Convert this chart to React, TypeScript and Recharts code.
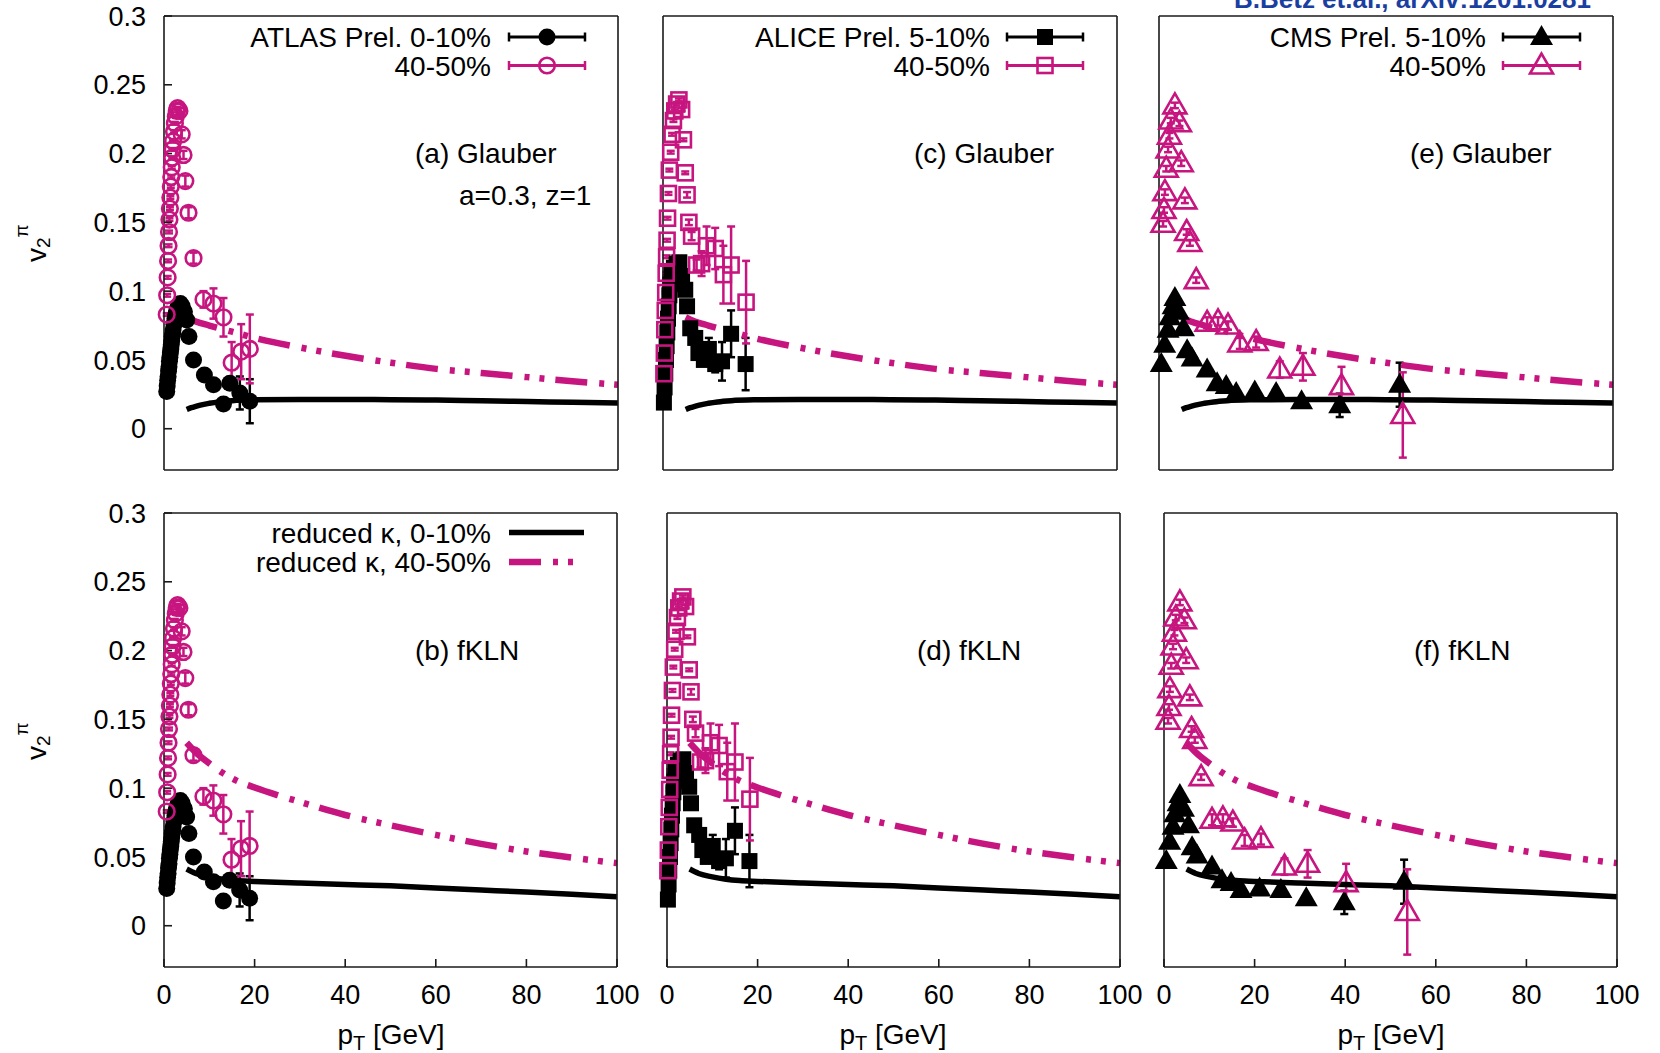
import React from "react";
import { ComposedChart, Scatter, Line, XAxis, YAxis, ErrorBar } from "recharts";

const INK = "#000000";
const MAGENTA = "#c7157f";
const BLUE = "#1b3fa1";
const AXIS = "#1a1a1a";
const FONT = '"Liberation Sans", Arial, Helvetica, sans-serif';

const xTicks = [0, 20, 40, 60, 80, 100];
const yTicks = [0, 0.05, 0.1, 0.15, 0.2, 0.25, 0.3];

// ATLAS Prel. 0-10%
const atlasCentPt = [0.6, 0.7, 0.8, 0.9, 1.0, 1.1, 1.2, 1.3, 1.4, 1.5, 1.6, 1.7, 1.8, 1.9, 2.0, 2.2, 2.4, 2.6, 2.8, 3.0, 3.3, 3.6, 4.0, 4.5, 5.0, 5.5, 6.5, 8.9, 10.9, 13.1, 14.5, 16.7, 18.9];
const atlasCentV = [0.027, 0.031, 0.035, 0.038, 0.042, 0.045, 0.049, 0.052, 0.055, 0.058, 0.061, 0.064, 0.067, 0.069, 0.072, 0.076, 0.080, 0.083, 0.086, 0.088, 0.090, 0.091, 0.089, 0.085, 0.079, 0.067, 0.050, 0.039, 0.032, 0.018, 0.033, 0.026, 0.020];
const atlasCentErr = [0.001, 0.001, 0.001, 0.001, 0.001, 0.001, 0.001, 0.001, 0.001, 0.001, 0.001, 0.001, 0.001, 0.001, 0.001, 0.001, 0.001, 0.001, 0.001, 0.001, 0.001, 0.001, 0.001, 0.001, 0.001, 0.001, 0.001, 0.002, 0.002, 0.003, 0.004, 0.012, 0.016];

// ATLAS Prel. 40-50%
const atlasPeriPt = [0.6, 0.7, 0.8, 0.9, 1.0, 1.1, 1.2, 1.3, 1.4, 1.5, 1.6, 1.7, 1.8, 1.9, 2.0, 2.2, 2.4, 2.6, 2.8, 3.0, 3.4, 3.9, 4.3, 4.7, 5.4, 6.5, 8.7, 10.9, 13.1, 14.9, 17.0, 18.9];
const atlasPeriV = [0.083, 0.097, 0.110, 0.122, 0.133, 0.143, 0.152, 0.160, 0.168, 0.176, 0.183, 0.190, 0.197, 0.203, 0.209, 0.216, 0.222, 0.227, 0.231, 0.233, 0.231, 0.214, 0.199, 0.180, 0.157, 0.124, 0.094, 0.091, 0.081, 0.048, 0.056, 0.058];
const atlasPeriErr = [0.001, 0.001, 0.001, 0.001, 0.001, 0.001, 0.001, 0.001, 0.001, 0.001, 0.001, 0.001, 0.001, 0.001, 0.001, 0.001, 0.001, 0.001, 0.001, 0.001, 0.002, 0.003, 0.003, 0.004, 0.004, 0.004, 0.006, 0.011, 0.014, 0.015, 0.020, 0.025];

// ALICE Prel. 5-10%
const aliceCentPt = [0.2, 0.35, 0.5, 0.65, 0.8, 0.95, 1.1, 1.25, 1.4, 1.6, 1.9, 2.4, 3.0, 3.6, 4.2, 4.9, 5.3, 6.0, 7.1, 7.8, 9.0, 10.1, 11.5, 13.0, 15.0, 18.2];
const aliceCentV = [0.019, 0.030, 0.040, 0.050, 0.060, 0.070, 0.080, 0.089, 0.097, 0.105, 0.112, 0.117, 0.120, 0.121, 0.111, 0.101, 0.089, 0.073, 0.066, 0.055, 0.050, 0.058, 0.047, 0.049, 0.069, 0.047];
const aliceCentErr = [0.001, 0.001, 0.001, 0.001, 0.001, 0.001, 0.001, 0.001, 0.001, 0.001, 0.001, 0.001, 0.001, 0.001, 0.001, 0.001, 0.001, 0.001, 0.001, 0.002, 0.004, 0.008, 0.006, 0.014, 0.017, 0.019];

// ALICE Prel. 40-50%
const alicePeriPt = [0.2, 0.3, 0.4, 0.5, 0.6, 0.7, 0.8, 0.9, 1.0, 1.2, 1.4, 1.7, 2.0, 2.3, 2.6, 3.0, 3.5, 4.1, 4.5, 4.9, 5.3, 5.7, 6.3, 7.4, 8.5, 9.6, 11.5, 13.3, 15.0, 18.3];
const alicePeriV = [0.040, 0.055, 0.072, 0.086, 0.099, 0.113, 0.125, 0.137, 0.153, 0.171, 0.188, 0.201, 0.214, 0.224, 0.231, 0.236, 0.239, 0.232, 0.210, 0.186, 0.170, 0.150, 0.140, 0.119, 0.120, 0.133, 0.131, 0.112, 0.119, 0.092];
const alicePeriErr = [0.001, 0.001, 0.001, 0.001, 0.001, 0.001, 0.001, 0.001, 0.001, 0.001, 0.001, 0.001, 0.001, 0.001, 0.001, 0.001, 0.001, 0.001, 0.001, 0.001, 0.002, 0.002, 0.003, 0.004, 0.009, 0.014, 0.015, 0.021, 0.028, 0.030];

// CMS Prel. 5-10%
const cmsCentPt = [0.5, 1.25, 2.0, 2.4, 3.1, 3.5, 4.3, 5.4, 6.2, 7.3, 10.6, 12.8, 14.8, 17.0, 21.1, 25.8, 31.4, 39.8, 53.0];
const cmsCentV = [0.047, 0.061, 0.072, 0.081, 0.089, 0.095, 0.085, 0.073, 0.057, 0.051, 0.043, 0.033, 0.031, 0.026, 0.027, 0.026, 0.020, 0.017, 0.032];
const cmsCentErr = [0.001, 0.001, 0.001, 0.001, 0.001, 0.001, 0.001, 0.001, 0.001, 0.001, 0.001, 0.001, 0.001, 0.001, 0.001, 0.001, 0.001, 0.0085, 0.016];

// CMS Prel. 40-50%
const cmsPeriPt = [0.9, 1.1, 1.3, 1.6, 2.0, 2.3, 2.6, 3.5, 4.5, 4.9, 5.7, 6.1, 6.8, 8.2, 10.6, 13.0, 15.2, 17.8, 21.4, 26.6, 31.7, 40.2, 53.7];
const cmsPeriV = [0.149, 0.159, 0.172, 0.189, 0.203, 0.213, 0.224, 0.235, 0.222, 0.193, 0.166, 0.143, 0.135, 0.108, 0.077, 0.078, 0.075, 0.062, 0.063, 0.043, 0.045, 0.031, 0.010];
const cmsPeriErr = [0.002, 0.002, 0.002, 0.002, 0.002, 0.002, 0.002, 0.002, 0.002, 0.002, 0.002, 0.002, 0.002, 0.002, 0.004, 0.003, 0.003, 0.004, 0.004, 0.006, 0.010, 0.014, 0.031];

// reduced kappa curves, Glauber
const glauberCentPt = [5, 6, 7, 8, 10, 12, 15, 20, 30, 40, 50, 60, 70, 80, 90, 100];
const glauberCentV = [0.014, 0.0153, 0.0163, 0.0172, 0.0185, 0.0195, 0.0204, 0.021, 0.0213, 0.0213, 0.0211, 0.0208, 0.0203, 0.0198, 0.0192, 0.0187];
const glauberPeriPt = [5, 7, 10, 15, 20, 30, 40, 50, 60, 70, 80, 90, 100];
const glauberPeriV = [0.081, 0.078, 0.075, 0.0705, 0.066, 0.059, 0.053, 0.048, 0.0435, 0.0405, 0.0375, 0.0345, 0.032];

// reduced kappa curves, fKLN
const fklnCentPt = [5, 7, 10, 13, 16, 20, 30, 40, 50, 60, 70, 80, 90, 100];
const fklnCentV = [0.0412, 0.038, 0.0355, 0.0338, 0.0328, 0.0322, 0.031, 0.030, 0.029, 0.0275, 0.026, 0.0245, 0.0228, 0.021];
const fklnPeriPt = [5, 7, 10, 13, 16, 20, 25, 30, 40, 50, 60, 70, 80, 90, 100];
const fklnPeriV = [0.133, 0.126, 0.118, 0.111, 0.1055, 0.1005, 0.095, 0.090, 0.0805, 0.073, 0.066, 0.0595, 0.054, 0.0495, 0.0455];

const zipPoints = (pt: number[], v: number[], e: number[]) => pt.map((p, i) => ({ pt: p, v: v[i], e: e[i] }));
const zipCurve = (pt: number[], v: number[]) => pt.map((p, i) => ({ pt: p, v: v[i] }));

const atlasCent = zipPoints(atlasCentPt, atlasCentV, atlasCentErr);
const atlasPeri = zipPoints(atlasPeriPt, atlasPeriV, atlasPeriErr);
const aliceCent = zipPoints(aliceCentPt, aliceCentV, aliceCentErr);
const alicePeri = zipPoints(alicePeriPt, alicePeriV, alicePeriErr);
const cmsCent = zipPoints(cmsCentPt, cmsCentV, cmsCentErr);
const cmsPeri = zipPoints(cmsPeriPt, cmsPeriV, cmsPeriErr);
const glauberCent = zipCurve(glauberCentPt, glauberCentV);
const glauberPeri = zipCurve(glauberPeriPt, glauberPeriV);
const fklnCent = zipCurve(fklnCentPt, fklnCentV);
const fklnPeri = zipCurve(fklnPeriPt, fklnPeriV);

const DASHDOT = "32 12 5 10 5 11";

// point shapes
const dot = (p: any) => <circle cx={p.cx} cy={p.cy} r={8.5} fill={INK} />;
const ring = (p: any) => <circle cx={p.cx} cy={p.cy} r={7.8} fill="none" stroke={MAGENTA} strokeWidth={2.6} />;
const block = (p: any) => <rect x={p.cx - 8} y={p.cy - 8} width={16} height={16} fill={INK} />;
const box = (p: any) => (
  <rect x={p.cx - 7.5} y={p.cy - 7.5} width={15} height={15} fill="none" stroke={MAGENTA} strokeWidth={2.6} />
);
const triPoints = (cx: number, cy: number) => `${cx},${cy - 12} ${cx - 11.5},${cy + 8} ${cx + 11.5},${cy + 8}`;
const solidTri = (p: any) => <polygon points={triPoints(p.cx, p.cy)} fill={INK} />;
const hollowTri = (p: any) => (
  <polygon points={triPoints(p.cx, p.cy)} fill="none" stroke={MAGENTA} strokeWidth={2.6} />
);

const tickStyle = { fill: INK, fontSize: 27, fontFamily: FONT };
const axisLine = { stroke: AXIS, strokeWidth: 1.6 };
const tickLine = { stroke: AXIS, strokeWidth: 1.6 };
// each axis takes 1px, the rest of the frame is margin
const M = { top: 39, right: 39, bottom: 79, left: 99 };

const panels = [
  { id: "a", left: 164, top: 16, w: 454, h: 454, showX: false, showY: true, cent: atlasCent, peri: atlasPeri, centShape: dot, periShape: ring, curveC: glauberCent, curveP: glauberPeri },
  { id: "c", left: 663, top: 16, w: 454, h: 454, showX: false, showY: false, cent: aliceCent, peri: alicePeri, centShape: block, periShape: box, curveC: glauberCent, curveP: glauberPeri },
  { id: "e", left: 1159, top: 16, w: 454, h: 454, showX: false, showY: false, cent: cmsCent, peri: cmsPeri, centShape: solidTri, periShape: hollowTri, curveC: glauberCent, curveP: glauberPeri },
  { id: "b", left: 164, top: 512.5, w: 453, h: 454, showX: true, showY: true, cent: atlasCent, peri: atlasPeri, centShape: dot, periShape: ring, curveC: fklnCent, curveP: fklnPeri },
  { id: "d", left: 667, top: 512.5, w: 453, h: 454, showX: true, showY: false, cent: aliceCent, peri: alicePeri, centShape: block, periShape: box, curveC: fklnCent, curveP: fklnPeri },
  { id: "f", left: 1164, top: 512.5, w: 453, h: 454, showX: true, showY: false, cent: cmsCent, peri: cmsPeri, centShape: solidTri, periShape: hollowTri, curveC: fklnCent, curveP: fklnPeri },
];

function Panel(p: any) {
  const outerW = p.w + M.left + M.right + 2;
  const outerH = p.h + M.top + M.bottom + 2;
  return (
    <div style={{ position: "absolute", left: p.left - M.left - 1, top: p.top - M.top - 1 }}>
      <ComposedChart width={outerW} height={outerH} margin={M}>
        <XAxis xAxisId="b" type="number" dataKey="pt" domain={[0, 100]} ticks={xTicks} interval={0} height={1}
          tickSize={-8} tickMargin={26} axisLine={axisLine} tickLine={tickLine} tick={p.showX ? tickStyle : false} />
        <XAxis xAxisId="t" orientation="top" type="number" dataKey="pt" domain={[0, 100]} ticks={xTicks} interval={0}
          height={1} tickSize={-8} axisLine={axisLine} tickLine={tickLine} tick={false} />
        <YAxis yAxisId="l" type="number" dataKey="v" domain={[-0.03, 0.3]} ticks={yTicks} interval={0} width={1}
          tickSize={-8} tickMargin={26} axisLine={axisLine} tickLine={tickLine} tick={p.showY ? tickStyle : false}
          tickFormatter={(t: number) => String(t)} />
        <YAxis yAxisId="r" orientation="right" type="number" dataKey="v" domain={[-0.03, 0.3]} ticks={yTicks} interval={0}
          width={1} tickSize={-8} axisLine={axisLine} tickLine={tickLine} tick={false} />
        <Scatter xAxisId="b" yAxisId="l" data={p.cent} dataKey="v" shape={p.centShape} isAnimationActive={false}>
          <ErrorBar dataKey="e" direction="y" width={4} stroke={INK} strokeWidth={2.5} />
        </Scatter>
        <Scatter xAxisId="b" yAxisId="l" data={p.peri} dataKey="v" shape={p.periShape} isAnimationActive={false}>
          <ErrorBar dataKey="e" direction="y" width={4} stroke={MAGENTA} strokeWidth={2.5} />
        </Scatter>
        <Line xAxisId="t" yAxisId="r" data={p.curveC} dataKey="v" type="monotone" stroke={INK} strokeWidth={5.5}
          dot={false} activeDot={false} isAnimationActive={false} />
        <Line xAxisId="t" yAxisId="r" data={p.curveP} dataKey="v" type="monotone" stroke={MAGENTA} strokeWidth={6.5}
          strokeDasharray={DASHDOT} dot={false} activeDot={false} isAnimationActive={false} />
      </ComposedChart>
    </div>
  );
}

function DataKey({ y, textRight, x1, x2, label, color, marker }: any) {
  const mid = (x1 + x2) / 2;
  return (
    <g>
      <text x={textRight} y={y + 10} textAnchor="end" fontSize={28} fill={INK}>{label}</text>
      <line x1={x1} y1={y} x2={x2} y2={y} stroke={color} strokeWidth={2.8} />
      <line x1={x1} y1={y - 4.5} x2={x1} y2={y + 4.5} stroke={color} strokeWidth={2.5} />
      <line x1={x2} y1={y - 4.5} x2={x2} y2={y + 4.5} stroke={color} strokeWidth={2.5} />
      {marker({ cx: mid, cy: y })}
    </g>
  );
}

function CurveKey({ y, textRight, x1, x2, label, color, width, dash }: any) {
  return (
    <g>
      <text x={textRight} y={y + 10} textAnchor="end" fontSize={28} fill={INK}>{label}</text>
      <line x1={x1} y1={y} x2={x2} y2={y} stroke={color} strokeWidth={width} strokeDasharray={dash} />
    </g>
  );
}

const notes = [
  { x: 415, y: 163, t: "(a) Glauber" },
  { x: 459, y: 205, t: "a=0.3, z=1" },
  { x: 914, y: 163, t: "(c) Glauber" },
  { x: 1410, y: 163, t: "(e) Glauber" },
  { x: 415, y: 660, t: "(b) fKLN" },
  { x: 917, y: 660, t: "(d) fKLN" },
  { x: 1414, y: 660, t: "(f) fKLN" },
];

export default function App() {
  return (
    <div style={{ position: "absolute", left: 0, top: 0, width: 1660, height: 1053, overflow: "hidden", background: "#fff", fontFamily: FONT }}>
      {panels.map((p) => <Panel key={p.id} {...p} />)}
      <svg width={1660} height={1053} style={{ position: "absolute", left: 0, top: 0, pointerEvents: "none" }} fontFamily={FONT}>
        <text x={1234} y={8} fontSize={26} fontWeight="bold" fill={BLUE}>B.Betz et.al., arXiv:1201.0281</text>

        <DataKey y={37} textRight={491} x1={509} x2={585} label="ATLAS Prel. 0-10%" color={INK} marker={dot} />
        <DataKey y={65.5} textRight={491} x1={509} x2={585} label="40-50%" color={MAGENTA} marker={ring} />
        <DataKey y={37} textRight={990} x1={1007} x2={1083} label="ALICE Prel. 5-10%" color={INK} marker={block} />
        <DataKey y={65.5} textRight={990} x1={1007} x2={1083} label="40-50%" color={MAGENTA} marker={box} />
        <DataKey y={37} textRight={1486} x1={1503} x2={1580} label="CMS Prel. 5-10%" color={INK} marker={solidTri} />
        <DataKey y={65.5} textRight={1486} x1={1503} x2={1580} label="40-50%" color={MAGENTA} marker={hollowTri} />

        <CurveKey y={532.5} textRight={491} x1={509} x2={584} label="reduced κ, 0-10%" color={INK} width={5.5} />
        <CurveKey y={562} textRight={491} x1={509} x2={584} label="reduced κ, 40-50%" color={MAGENTA} width={6.5} dash={DASHDOT} />

        {notes.map((n) => (
          <text key={n.t} x={n.x} y={n.y} fontSize={28} fill={INK}>{n.t}</text>
        ))}

        {[391, 893, 1391].map((cx) => (
          <text key={cx} x={cx} y={1044} textAnchor="middle" fontSize={28} fill={INK}>
            p<tspan dy={6} fontSize={20}>T</tspan><tspan dy={-6}> [GeV]</tspan>
          </text>
        ))}

        {[262, 760].map((sy) => (
          <text key={sy} transform={`translate(46,${sy}) rotate(-90)`} fontSize={28} fill={INK}>
            v<tspan dy={4} fontSize={19}>2</tspan><tspan dy={-22} fontSize={19}>π</tspan>
          </text>
        ))}
      </svg>
    </div>
  );
}
